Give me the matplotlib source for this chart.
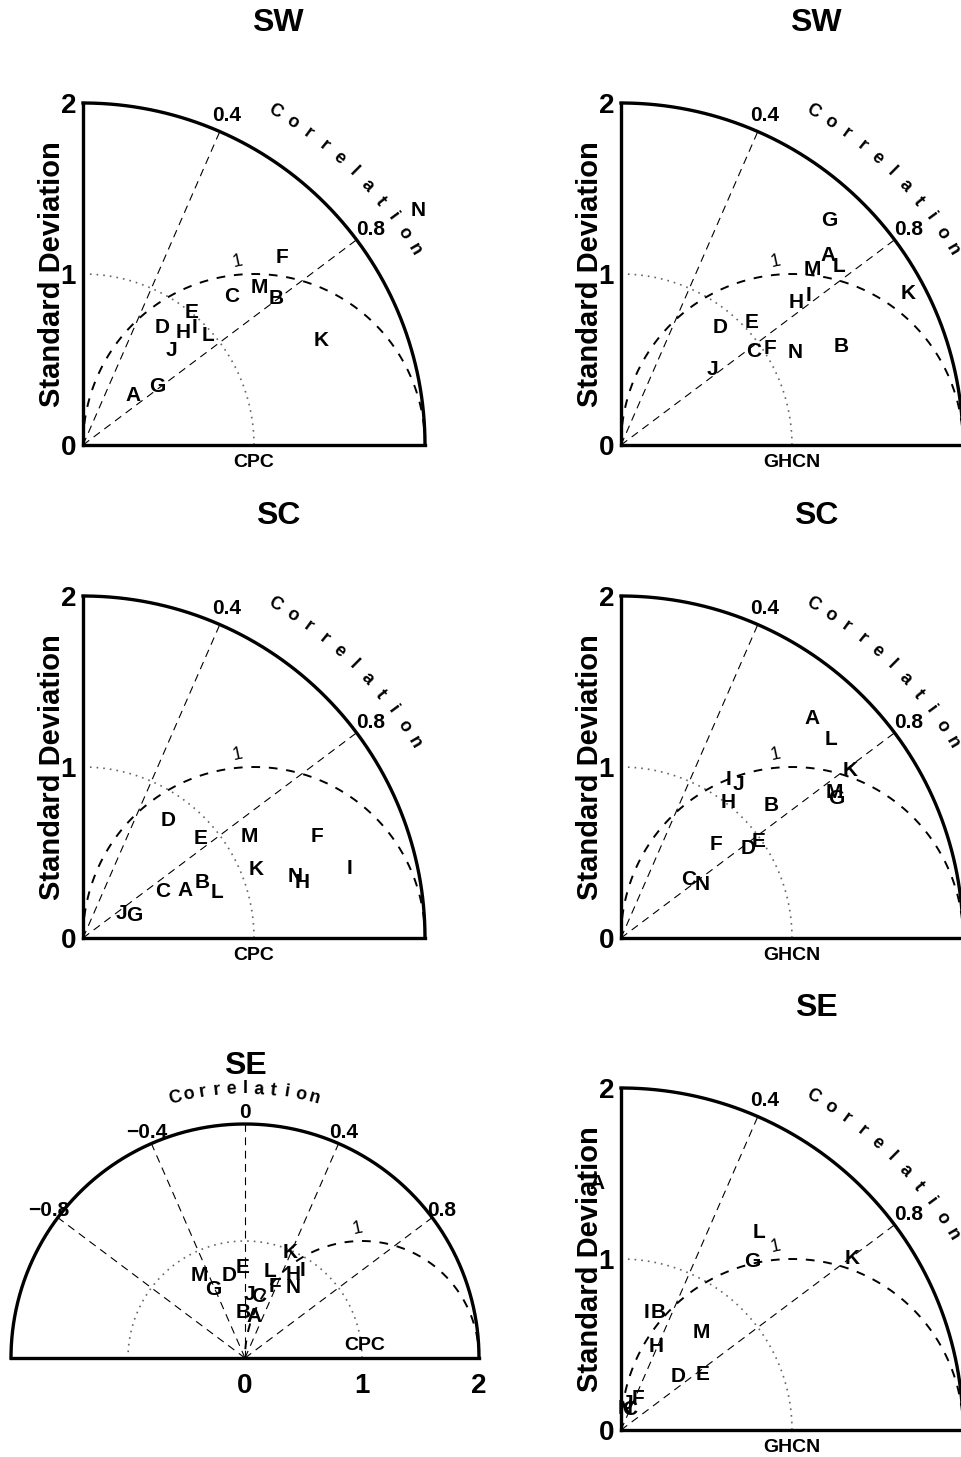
import numpy as np
import matplotlib
matplotlib.use('Agg')
import matplotlib.pyplot as plt

plt.rcParams['font.family'] = ['Liberation Sans', 'DejaVu Sans']

# model labels, same for every panel
letters = ['A', 'B', 'C', 'D', 'E', 'F', 'G', 'H', 'I', 'J', 'K', 'L', 'M', 'N']

# normalised standard deviation and correlation
sw_cpc_std = [0.41, 1.42, 1.23, 0.83, 1.00, 1.60, 0.55, 0.88, 0.95, 0.76, 1.52, 0.97, 1.38, 2.39]
sw_cpc_corr = [0.707, 0.797, 0.709, 0.561, 0.634, 0.729, 0.787, 0.663, 0.688, 0.684, 0.916, 0.751, 0.746, 0.819]

sw_ghcn_std = [1.64, 1.41, 0.95, 0.90, 1.05, 1.04, 1.79, 1.32, 1.40, 0.69, 1.90, 1.65, 1.52, 1.15]
sw_ghcn_corr = [0.737, 0.912, 0.817, 0.642, 0.729, 0.840, 0.679, 0.775, 0.782, 0.771, 0.885, 0.773, 0.737, 0.883]

sc_cpc_std = [0.66, 0.77, 0.54, 0.85, 0.90, 1.49, 0.33, 1.32, 1.61, 0.27, 1.09, 0.83, 1.14, 1.29]
sc_cpc_corr = [0.906, 0.907, 0.867, 0.589, 0.763, 0.917, 0.915, 0.969, 0.968, 0.841, 0.931, 0.947, 0.854, 0.961]

sc_ghcn_std = [1.70, 1.17, 0.52, 0.91, 0.98, 0.78, 1.50, 1.01, 1.12, 1.13, 1.66, 1.69, 1.51, 0.57]
sc_ghcn_corr = [0.657, 0.751, 0.756, 0.816, 0.819, 0.715, 0.840, 0.621, 0.561, 0.607, 0.808, 0.726, 0.827, 0.837]

se_cpc_std = [0.36, 0.39, 0.54, 0.72, 0.77, 0.66, 0.65, 0.82, 0.90, 0.54, 0.98, 0.77, 0.81, 0.73]
se_cpc_corr = [0.214, -0.043, 0.224, -0.190, -0.022, 0.389, -0.421, 0.501, 0.550, 0.063, 0.391, 0.279, -0.485, 0.566]

se_ghcn_std = [1.45, 0.72, 0.13, 0.46, 0.58, 0.21, 1.25, 0.53, 0.70, 0.16, 1.68, 1.41, 0.74, 0.13]
se_ghcn_corr = [-0.097, 0.302, 0.411, 0.732, 0.826, 0.469, 0.614, 0.389, 0.209, 0.226, 0.803, 0.571, 0.636, 0.180]

W, H = 962, 1457
fig = plt.figure(figsize=(W / 100, H / 100), dpi=100)


def place(ox, oy, s, xmin, xmax, ymax):
    # axes whose data origin sits at pixel (ox, oy), s pixels per unit
    ax = fig.add_axes([(ox + xmin * s) / W, (H - oy) / H, (xmax - xmin) * s / W, ymax * s / H])
    ax.set_xlim(xmin, xmax)
    ax.set_ylim(0, ymax)
    ax.patch.set_visible(False)
    return ax


def put_points(ax, std, corr, fs=15):
    std = np.array(std)
    corr = np.array(corr)
    x = std * corr
    y = std * np.sqrt(1 - corr ** 2)
    for i in range(len(letters)):
        ax.text(x[i], y[i], letters[i], ha='center', va='center', fontsize=fs, fontweight='bold')


def corr_word(ax, r, a0, step, fs):
    for k, ch in enumerate('Correlation'):
        a = np.radians(a0 - k * step)
        ax.text(r * np.cos(a), r * np.sin(a), ch, ha='center', va='center', fontsize=fs,
                fontweight='bold', rotation=np.degrees(a) - 90)


def quarter(ox, oy, title, ref, std, corr):
    ax = place(ox, oy, 171, 0, 2.1, 2.1)
    ax.spines['top'].set_visible(False)
    ax.spines['right'].set_visible(False)
    ax.spines['left'].set_bounds(0, 2)
    ax.spines['bottom'].set_bounds(0, 2)
    ax.spines['left'].set_linewidth(2.4)
    ax.spines['bottom'].set_linewidth(2.4)
    ax.set_xticks([])
    ax.set_yticks([0, 1, 2])
    ax.set_yticklabels(['0', '1', '2'], fontsize=20, fontweight='bold')
    ax.tick_params(axis='y', length=0, pad=5)

    t = np.linspace(0, np.pi / 2, 200)
    ax.plot(2 * np.cos(t), 2 * np.sin(t), 'k-', lw=2.4, clip_on=False)
    ax.plot(np.cos(t), np.sin(t), color='0.4', ls=(0, (1, 3)), lw=1.2)
    t2 = np.linspace(0, np.pi, 300)
    ax.plot(1 + np.cos(t2), np.sin(t2), 'k', ls=(0, (4.5, 4.5)), lw=1.4)
    for c in [0.4, 0.8]:
        a = np.arccos(c)
        ax.plot([0, 2 * np.cos(a)], [0, 2 * np.sin(a)], 'k', ls=(0, (7, 5)), lw=0.8)
        ax.text(2.1 * np.cos(a), 2.1 * np.sin(a), str(c), ha='center', va='center',
                fontsize=15, fontweight='bold')
    ax.text(0.905, 1.07, '1', ha='center', va='center', fontsize=13, rotation=12)
    corr_word(ax, 2.25, 60, 2.95, 13)
    ax.text(1.0, -0.1, ref, ha='center', va='center', fontsize=14, fontweight='bold')
    ax.text(-0.18, 1.0, 'Standard Deviation', rotation=90, ha='center', va='center',
            fontsize=21, fontweight='bold')
    ax.text(1.14, 2.47, title, ha='center', va='center', fontsize=23, fontweight='bold')
    put_points(ax, std, corr)
    return ax


quarter(83, 445, 'SW', 'CPC', sw_cpc_std, sw_cpc_corr)
quarter(621, 445, 'SW', 'GHCN', sw_ghcn_std, sw_ghcn_corr)
quarter(83, 938, 'SC', 'CPC', sc_cpc_std, sc_cpc_corr)
quarter(621, 938, 'SC', 'GHCN', sc_ghcn_std, sc_ghcn_corr)
quarter(621, 1430, 'SE', 'GHCN', se_ghcn_std, se_ghcn_corr)

# SE / CPC has negative correlations -> half circle
ax = place(245, 1358, 117, -2.05, 2.05, 2.1)
for side in ['top', 'right', 'left']:
    ax.spines[side].set_visible(False)
ax.spines['bottom'].set_bounds(-2, 2)
ax.spines['bottom'].set_linewidth(2.4)
ax.set_yticks([])
ax.set_xticks([0, 1, 2])
ax.set_xticklabels(['0', '1', '2'], fontsize=20, fontweight='bold')
ax.tick_params(axis='x', length=0, pad=11)
t = np.linspace(0, np.pi, 300)
ax.plot(2 * np.cos(t), 2 * np.sin(t), 'k-', lw=2.4, clip_on=False)
ax.plot(np.cos(t), np.sin(t), color='0.4', ls=(0, (1, 3)), lw=1.2)
ax.plot(1 + np.cos(t), np.sin(t), 'k', ls=(0, (4.5, 4.5)), lw=1.4)
for c in [-0.8, -0.4, 0, 0.4, 0.8]:
    a = np.arccos(c)
    ax.plot([0, 2 * np.cos(a)], [0, 2 * np.sin(a)], 'k', ls=(0, (7, 5)), lw=0.8)
    lab = str(abs(c)) if c != 0 else '0'
    if c < 0:
        lab = '\u2212' + lab
    ax.text(2.1 * np.cos(a), 2.1 * np.sin(a), lab, ha='center', va='center',
            fontsize=15, fontweight='bold')
ax.text(0.966, 1.11, '1', ha='center', va='center', fontsize=13, rotation=12)
corr_word(ax, 2.3, 105, 3, 13)
ax.text(1.02, 0.11, 'CPC', ha='center', va='center', fontsize=14, fontweight='bold')
ax.text(0, 2.5, 'SE', ha='center', va='center', fontsize=23, fontweight='bold')
put_points(ax, se_cpc_std, se_cpc_corr)

fig.savefig('out.png', dpi=100)
